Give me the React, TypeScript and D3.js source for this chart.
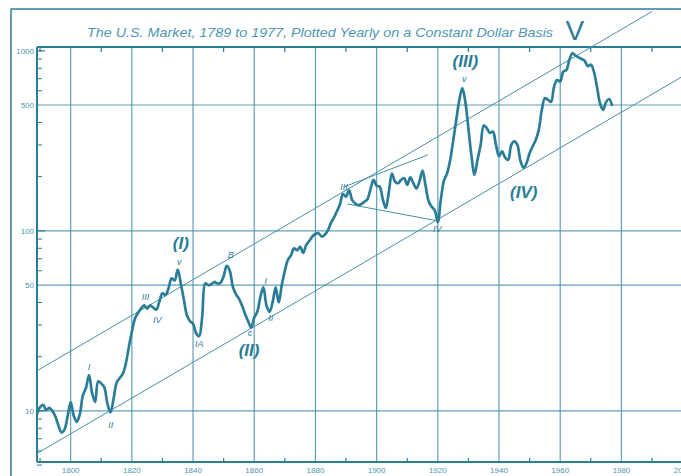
import React from "react";
import * as d3 from "d3";

// Constant-dollar market index, one value per year starting 1789
const startYear = 1789;
const values: number[] = [
  9.6,
  10.5, 10.8, 10.1, 10.4, 10.0, 9.3, 8.3, 7.6, 7.9, 9.3,
  11.2, 9.4, 8.7, 9.6, 12.2, 13.4, 15.8, 12.6, 11.2, 14.6,
  14.2, 13.5, 11.0, 9.8, 11.6, 14.3, 15.2, 16.0, 18.2, 22.5,
  27.5, 32.5, 35.0, 37.0, 38.5, 37.0, 38.5, 37.5, 36.5, 40.5,
  45.0, 44.0, 48.0, 54.5, 53.0, 61.0, 51.0, 41.5, 34.0, 31.5,
  30.5, 27.0, 26.0, 33.5, 51.0, 50.0, 50.5, 52.0, 51.0, 51.5,
  56.0, 64.0, 60.0, 49.0, 44.5, 42.0, 38.5, 34.5, 31.5, 29.0,
  33.0, 35.5, 43.0, 48.5, 38.5, 35.5, 40.0, 48.5, 40.0, 50.0,
  60.0, 69.0, 73.0, 80.0, 78.0, 81.5, 75.5, 83.5, 88.0, 93.0,
  96, 97, 93, 95, 100, 110, 118, 128, 140, 160,
  155, 168, 148, 142, 139, 141, 145, 150, 170, 192,
  178, 176, 150, 134, 165, 208, 188, 184, 192, 196,
  180, 198, 184, 172, 188, 216, 178, 146, 136, 130,
  112, 150, 190, 208, 245, 315, 410, 530, 620, 520,
  370, 260, 205, 250, 300, 385, 372, 350, 356, 300,
  260, 276, 255, 248, 300, 314, 300, 245, 224, 238,
  270, 295, 320, 365, 470, 546, 535, 520, 633, 688,
  674, 767, 782, 892, 970, 940, 920, 900, 880, 820,
  837, 767, 633, 512, 470, 520, 540, 495,
];
const years = values.map((_, i) => startYear + i);

// Axis ticks
const gridYears = [1800, 1820, 1840, 1860, 1880, 1900, 1920, 1940, 1960, 1980, 2000];
const oddDecades = [1790, 1810, 1830, 1850, 1870, 1890, 1910, 1930, 1950, 1970, 1990];
const yLabels = [10, 50, 100, 500, 1000];
const yGrid = [10, 50, 100, 500];
const yMinor = [5, 6, 7, 8, 9, 20, 30, 40, 60, 70, 80, 90, 200, 300, 400, 600, 700, 800, 900];

// Trend channel (year, value) endpoints
const channelYears = [1789, 1990];
const upperChannel = [16.7, 1653];
const lowerYears = [1789, 2000];
const lowerChannel = [5.8, 721];
// Triangle boundaries of the 1889-1920 fourth wave
const triUpperYears = [1889.2, 1916.7];
const triUpperValues = [175, 264];
const triLowerYears = [1890.5, 1919.9];
const triLowerValues = [141, 113.6];

// Wave labels
const minorLabels = [
  { t: "I", yr: 1806, v: 17.5 },
  { t: "II", yr: 1813.1, v: 8.4 },
  { t: "III", yr: 1824.5, v: 43 },
  { t: "IV", yr: 1828.3, v: 32 },
  { t: "v", yr: 1835.5, v: 67 },
  { t: "IA", yr: 1842, v: 23.5 },
  { t: "B", yr: 1852.3, v: 73.5 },
  { t: "c", yr: 1858.6, v: 27 },
  { t: "I", yr: 1863.8, v: 53 },
  { t: "II", yr: 1865.4, v: 32.7 },
  { t: "III", yr: 1889.3, v: 176 },
  { t: "IV", yr: 1919.8, v: 103 },
  { t: "v", yr: 1928.6, v: 700 },
];
const majorLabels = [
  { t: "(I)", yr: 1836, v: 86 },
  { t: "(II)", yr: 1858.3, v: 21.8 },
  { t: "(III)", yr: 1929, v: 880 },
  { t: "(IV)", yr: 1948.1, v: 165 },
];
const peakLabel = { t: "V", yr: 1964.8, v: 1309 };

const title = "The U.S. Market, 1789 to 1977, Plotted Yearly on a Constant Dollar Basis";

const INK = "#2a7d97";
const GRID = "#4790a9";
const TEXT = "#4d97b0";

export default function App() {
  const W = 681;
  const H = 476;
  const x = d3.scaleLinear().domain([1789, 2000]).range([37, 682.6]);
  const y = d3.scaleLog().domain([5.2, 1050]).range([462, 47]);
  const left = x(1789);
  const right = W + 5;
  const top = y(1050);
  const bottom = y(5.2);

  const line = d3
    .line<number>()
    .x((_, i) => x(years[i]))
    .y((d) => y(d))
    .curve(d3.curveCatmullRom.alpha(0.5));

  const seg = (ys: number[], vs: number[]) =>
    d3
      .line<number>()
      .x((_, i) => x(ys[i]))
      .y((d) => y(d))(vs) || "";

  return (
    <svg
      width={W}
      height={H}
      style={{ position: "absolute", left: 0, top: 0, background: "#fff" }}
      fontFamily="'Liberation Sans', Arial, sans-serif"
    >
      {/* page border */}
      <line x1={11} y1={9} x2={W} y2={9} stroke={INK} strokeWidth={1.5} />
      <line x1={11} y1={9} x2={11} y2={H} stroke={INK} strokeWidth={1.5} />

      <text
        x={320}
        y={37}
        textAnchor="middle"
        fontSize={13}
        fontStyle="italic"
        fill={TEXT}
        textLength={466}
        lengthAdjust="spacingAndGlyphs"
      >
        {title}
      </text>

      {/* grid */}
      {gridYears.map((g) => (
        <line key={"gx" + g} x1={x(g)} x2={x(g)} y1={top} y2={bottom} stroke={GRID} strokeWidth={1.2} opacity={0.85} />
      ))}
      {yGrid.map((g) => (
        <line key={"gy" + g} x1={left} x2={right} y1={y(g)} y2={y(g)} stroke={GRID} strokeWidth={1.2} opacity={0.85} />
      ))}

      {/* frame */}
      <line x1={left} x2={right} y1={top} y2={top} stroke={INK} strokeWidth={2} />
      <line x1={left} x2={right} y1={bottom} y2={bottom} stroke={INK} strokeWidth={2} />
      <line x1={left} x2={left} y1={top} y2={bottom} stroke={INK} strokeWidth={2} />

      {/* ticks */}
      {oddDecades.map((g) => (
        <g key={"t" + g}>
          <line x1={x(g)} x2={x(g)} y1={top} y2={top + 5} stroke={INK} strokeWidth={1.2} />
          <line x1={x(g)} x2={x(g)} y1={bottom} y2={bottom - 4} stroke={INK} strokeWidth={1.2} />
        </g>
      ))}
      {yMinor.map((m) => (
        <line key={"ym" + m} x1={left} x2={left + 5} y1={y(m)} y2={y(m)} stroke={INK} strokeWidth={1} />
      ))}
      {[10, 100, 1000].map((m) => (
        <line key={"yM" + m} x1={left} x2={left + 8} y1={y(m)} y2={y(m)} stroke={INK} strokeWidth={1.2} />
      ))}

      {/* axis labels */}
      {yLabels.map((v) => (
        <text key={"yl" + v} x={left - 3} y={y(v)} dy="0.35em" textAnchor="end" fontSize={8} fill={TEXT}>
          {v}
        </text>
      ))}
      {gridYears.map((g) => (
        <text key={"xl" + g} x={x(g)} y={bottom + 11} textAnchor="middle" fontSize={8} fill={TEXT}>
          {g}
        </text>
      ))}

      {/* channel and triangle */}
      <path d={seg(channelYears, upperChannel)} stroke={GRID} strokeWidth={1} fill="none" />
      <path d={seg(lowerYears, lowerChannel)} stroke={GRID} strokeWidth={1} fill="none" />
      <path d={seg(triUpperYears, triUpperValues)} stroke={GRID} strokeWidth={1} fill="none" />
      <path d={seg(triLowerYears, triLowerValues)} stroke={GRID} strokeWidth={1} fill="none" />

      {/* market line */}
      <path d={line(values) || ""} fill="none" stroke={INK} strokeWidth={2.7} strokeLinejoin="round" />

      {/* labels */}
      {minorLabels.map((l, i) => (
        <text key={"ml" + i} x={x(l.yr)} y={y(l.v)} dy="0.35em" textAnchor="middle" fontSize={9} fontStyle="italic" fill={INK}>
          {l.t}
        </text>
      ))}
      {majorLabels.map((l, i) => (
        <text key={"Ml" + i} x={x(l.yr)} y={y(l.v)} dy="0.35em" textAnchor="middle" fontSize={17} fontStyle="italic" fontWeight="bold" fill={INK}>
          {l.t}
        </text>
      ))}
      <text x={x(peakLabel.yr)} y={y(peakLabel.v)} dy="0.35em" textAnchor="middle" fontSize={28} fill={INK}>
        {peakLabel.t}
      </text>
    </svg>
  );
}
